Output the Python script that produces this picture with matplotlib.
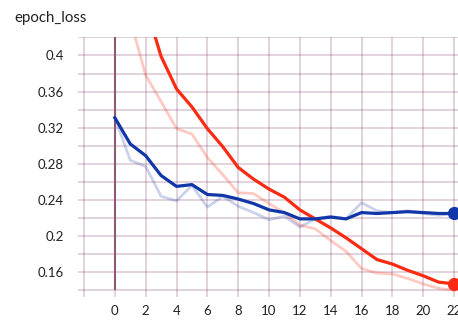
import numpy as np
import matplotlib
matplotlib.use("Agg")
from matplotlib import pyplot as plt
from matplotlib.ticker import FuncFormatter

plt.rcParams['font.family'] = ['Lato', 'DejaVu Sans']

# epoch indices
epochs = np.arange(23)

# run A (red): smoothed and raw loss
red_smooth = [0.58, 0.52, 0.455, 0.399, 0.363, 0.343, 0.319, 0.299, 0.276,
              0.263, 0.252, 0.243, 0.229, 0.219, 0.209, 0.198, 0.186, 0.174,
              0.169, 0.162, 0.156, 0.149, 0.147]
red_raw = [0.50, 0.44, 0.378, 0.349, 0.319, 0.313, 0.287, 0.268, 0.248,
           0.247, 0.236, 0.226, 0.212, 0.208, 0.195, 0.183, 0.164, 0.159,
           0.158, 0.153, 0.147, 0.142, 0.140]

# run B (blue): smoothed and raw loss
blue_smooth = [0.331, 0.302, 0.289, 0.267, 0.255, 0.257, 0.246, 0.245, 0.241,
               0.236, 0.229, 0.226, 0.219, 0.219, 0.221, 0.219, 0.226, 0.225,
               0.226, 0.227, 0.226, 0.225, 0.225]
blue_raw = [0.331, 0.284, 0.277, 0.244, 0.239, 0.256, 0.232, 0.244, 0.233,
            0.226, 0.218, 0.222, 0.210, 0.219, 0.222, 0.219, 0.237, 0.228,
            0.226, 0.228, 0.225, 0.223, 0.225]

x_labels = list(range(0, 23, 2))
y_labels = [0.16, 0.2, 0.24, 0.28, 0.32, 0.36, 0.4]

red = '#fb2a12'
blue = '#1036a8'

fig = plt.figure(figsize=(4.58, 3.21), dpi=100)
ax = fig.add_axes([0.170, 0.0748, 0.830, 0.810])

# grid: every 2 epochs, every 0.02 loss
grid_col = (0.52, 0.25, 0.40, 0.25)
for gx in range(-2, 23, 2):
    ax.axvline(gx, color=grid_col, lw=1.3, zorder=0)
for gy in np.arange(0.14, 0.4201, 0.02):
    ax.axhline(gy, color=grid_col, lw=1.3, zorder=0)
ax.vlines(0, 0.14, 0.42, color='#8c5a72', lw=1.5, zorder=1)

ax.plot(epochs, red_raw, color=red, alpha=0.25, lw=2.0, zorder=2)
ax.plot(epochs, blue_raw, color=blue, alpha=0.22, lw=2.0, zorder=2)
ax.plot(epochs, red_smooth, color=red, lw=2.3, zorder=3, solid_joinstyle='round')
ax.plot(epochs, blue_smooth, color=blue, lw=2.3, zorder=3, solid_joinstyle='round')
ax.plot(epochs[-1], red_smooth[-1], 'o', color=red, ms=8.5, zorder=4, clip_on=False)
ax.plot(epochs[-1], blue_smooth[-1], 'o', color=blue, ms=8.5, zorder=4, clip_on=False)

ax.set_xlim(-2.4, 22.26)
ax.set_ylim(0.1325, 0.4205)
ax.set_xticks(x_labels)
ax.set_yticks(y_labels)
ax.yaxis.set_major_formatter(FuncFormatter(lambda v, p: ('%.2f' % v).rstrip('0')))
ax.tick_params(length=0, labelsize=9.5, colors='#212121')
ax.tick_params(axis='y', pad=10)
ax.tick_params(axis='x', pad=6)
for s in ax.spines.values():
    s.set_visible(False)

fig.text(14 / 458, 1 - 18 / 321, 'epoch_loss', fontsize=10.8, color='#212121',
         ha='left', va='center')

fig.savefig('out.png', dpi=100)
